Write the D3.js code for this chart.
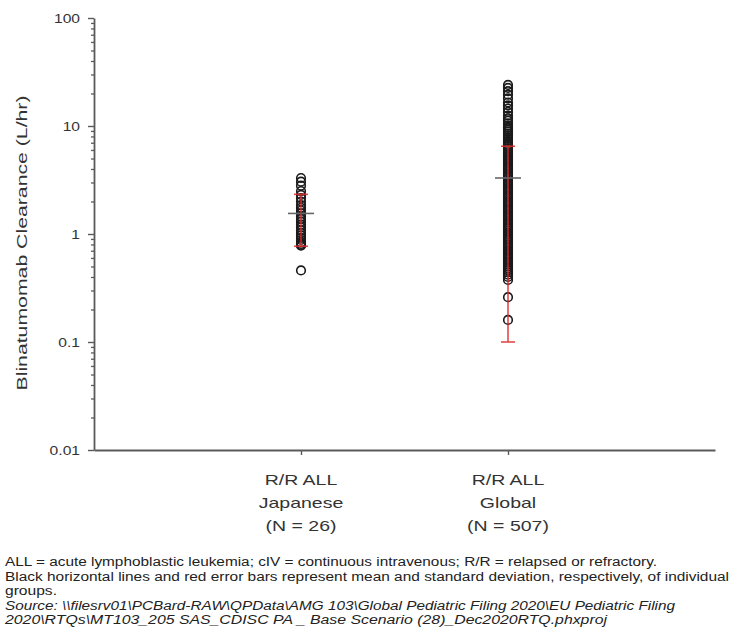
<!DOCTYPE html>
<html>
<head>
<meta charset="utf-8">
<script src="https://cdn.jsdelivr.net/npm/d3@7"></script>
<style>
  html, body { margin: 0; padding: 0; background: #fff; }
  svg { display: block; font-family: "Liberation Sans", Arial, sans-serif; }
</style>
</head>
<body>
<svg id="chart" width="729" height="643"></svg>
<script>
// ---- data ----
const categories = ["R/R ALL Japanese", "R/R ALL Global"];
const categoryLines = [["R/R ALL", "Japanese", "(N = 26)"], ["R/R ALL", "Global", "(N = 507)"]];
const japaneseValues = [3.3, 3.05, 2.8, 2.5, 2.3, 2.15, 2.0, 1.85, 1.75, 1.65, 1.55, 1.45, 1.38, 1.3,
  1.22, 1.15, 1.08, 1.02, 0.97, 0.92, 0.88, 0.84, 0.81, 0.79, 0.78, 0.46];
const globalValues = [24, 22.5, 21, 19.5, 18, 16.5, 15.5, 14.5, 13.5, 12.5, 11.8, 11.2,
  10.6, 10.1, 9.7, 9.3, 8.9, 8.5, 8.2, 7.9, 7.6, 7.3, 7.0, 6.7, 6.45, 6.2, 5.95, 5.7, 5.5, 5.3,
  5.1, 4.9, 4.7, 4.5, 4.35, 4.2, 4.05, 3.9, 3.75, 3.6, 3.47, 3.35, 3.23, 3.11, 3.0, 2.89, 2.78,
  2.68, 2.58, 2.49, 2.4, 2.31, 2.23, 2.15, 2.07, 2.0, 1.93, 1.86, 1.79, 1.72, 1.66, 1.6, 1.54,
  1.48, 1.43, 1.38, 1.33, 1.28, 1.23, 1.19, 1.15, 1.11, 1.07, 1.03, 0.99, 0.95, 0.92, 0.89, 0.86,
  0.83, 0.8, 0.77, 0.74, 0.71, 0.69, 0.66, 0.64, 0.62, 0.6, 0.58, 0.56, 0.54, 0.52, 0.5, 0.48,
  0.46, 0.44, 0.42, 0.4, 0.375, 0.26, 0.16];
const seriesValues = [japaneseValues, globalValues];
const means = [1.55, 3.3];
const sds = [0.78, 3.2];
const yTickValues = [0.01, 0.1, 1, 10, 100];
const yTickLabels = ["0.01", "0.1", "1", "10", "100"];
const yLabel = "Blinatumomab Clearance (L/hr)";
const footnotes = [
  "ALL = acute lymphoblastic leukemia; cIV = continuous intravenous; R/R = relapsed or refractory.",
  "Black horizontal lines and red error bars represent mean and standard deviation, respectively, of individual",
  "groups."
];
const sourceLines = [
  "Source: \\\\filesrv01\\PCBard-RAW\\QPData\\AMG 103\\Global Pediatric Filing 2020\\EU Pediatric Filing",
  "2020\\RTQs\\MT103_205 SAS_CDISC PA _ Base Scenario (28)_Dec2020RTQ.phxproj"
];

(function () {
// ---- layout ----
const svg = d3.select("#chart");
const mLeft = 94, mRight = 715, mTop = 18, mBottom = 450;
const axisColor = "#5a5a5a";
const textColor = "#333";

// widen text horizontally (reference typeface is set wide)
function stretch(sel, factor) {
  sel.each(function () {
    const w = this.getComputedTextLength();
    d3.select(this).attr("textLength", w * factor).attr("lengthAdjust", "spacingAndGlyphs");
  });
}

const y = d3.scaleLog().domain([0.01, 100]).range([mBottom, mTop]);
const x = d3.scalePoint().domain(categories).range([mLeft, mRight]).padding(1);

// minor ticks
const minorTicks = [];
for (let e = -2; e < 2; e++) for (let m = 2; m <= 9; m++) minorTicks.push(m * Math.pow(10, e));

const gMinor = svg.append("g").attr("transform", `translate(${mLeft},0)`)
  .call(d3.axisLeft(y).tickValues(minorTicks).tickSize(3).tickFormat(""));
gMinor.select(".domain").remove();
gMinor.selectAll("line").attr("stroke", axisColor).attr("stroke-width", 1.3);

const gY = svg.append("g").attr("transform", `translate(${mLeft},0)`)
  .call(d3.axisLeft(y).tickValues(yTickValues).tickSize(6).tickSizeOuter(0).tickPadding(8)
    .tickFormat((d, i) => yTickLabels[i]));
gY.select(".domain").attr("stroke", axisColor).attr("stroke-width", 1.8);
gY.selectAll("line").attr("stroke", axisColor).attr("stroke-width", 1.4);
gY.selectAll("text").attr("fill", textColor).style("font-size", "13px").call(stretch, 1.2);

const gX = svg.append("g").attr("transform", `translate(0,${mBottom})`)
  .call(d3.axisBottom(x).tickSize(5).tickSizeOuter(0).tickFormat(""));
gX.select(".domain").attr("stroke", axisColor).attr("stroke-width", 1.8);
gX.selectAll("line").attr("stroke", axisColor).attr("stroke-width", 1.4);

// category labels
categories.forEach((c, i) => {
  categoryLines[i].forEach((ln, j) => {
    svg.append("text").attr("text-anchor", "middle").attr("fill", textColor)
      .style("font-size", "15px")
      .attr("x", x(c)).attr("y", 485 + j * 23).text(ln)
      .call(stretch, 1.3);
  });
});

// y label
svg.append("text")
  .attr("transform", `translate(27,${(mTop + mBottom) / 2 + 9}) rotate(-90)`)
  .attr("text-anchor", "middle").attr("fill", textColor)
  .style("font-size", "15px").text(yLabel)
  .attr("textLength", 295).attr("lengthAdjust", "spacingAndGlyphs");

// points
categories.forEach((c, i) => {
  svg.append("g").selectAll("circle").data(seriesValues[i]).join("circle")
    .attr("cx", x(c)).attr("cy", d => y(d)).attr("r", 4.3)
    .attr("fill", "none").attr("stroke", "#1a1a1a").attr("stroke-width", 1.6);
});

// error bars (mean ± SD)
categories.forEach((c, i) => {
  const lo = means[i] - sds[i], hi = means[i] + sds[i];
  const g = svg.append("g").attr("stroke", "#e02a2a").attr("stroke-width", 1.6).attr("opacity", 0.85);
  g.append("line").attr("x1", x(c)).attr("x2", x(c)).attr("y1", y(lo)).attr("y2", y(hi));
  g.append("line").attr("x1", x(c) - 7).attr("x2", x(c) + 7).attr("y1", y(lo)).attr("y2", y(lo));
  g.append("line").attr("x1", x(c) - 7).attr("x2", x(c) + 7).attr("y1", y(hi)).attr("y2", y(hi));
  svg.append("line").attr("x1", x(c) - 13).attr("x2", x(c) + 13)
    .attr("y1", y(means[i])).attr("y2", y(means[i]))
    .attr("stroke", "#666").attr("stroke-width", 1.6);
});

// footnotes
const footLengths = [652, 724, 52];
const sourceLengths = [670, 602];
const fn = svg.append("g").attr("fill", "#222").style("font-size", "12px");
footnotes.forEach((t, i) => fn.append("text").attr("x", 5).attr("y", 566 + i * 14.5).text(t)
  .attr("textLength", footLengths[i]).attr("lengthAdjust", "spacingAndGlyphs"));
sourceLines.forEach((t, i) => fn.append("text").attr("x", 5).attr("y", 566 + (i + 3) * 14.5)
  .style("font-style", "italic").text(t)
  .attr("textLength", sourceLengths[i]).attr("lengthAdjust", "spacingAndGlyphs"));
})();
</script>
</body>
</html>
